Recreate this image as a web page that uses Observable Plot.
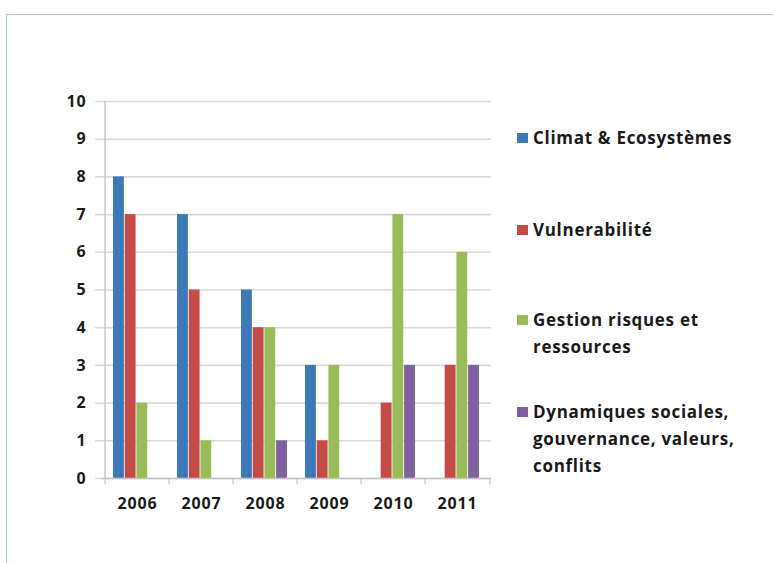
<!DOCTYPE html>
<html>
<head>
<meta charset="utf-8">
<script src="https://cdn.jsdelivr.net/npm/d3@7"></script>
<script src="https://cdn.jsdelivr.net/npm/@observablehq/plot@0.6"></script>
<style>
  html, body { margin: 0; padding: 0; background: #fff; }
  #wrap { position: relative; width: 773px; height: 563px; overflow: hidden; font-family: "Open Sans", sans-serif; }
  #border { position: absolute; left: 6px; top: 14px; right: -2px; bottom: -2px; border-top: 1.5px solid #a9cfd5; border-left: 1.5px solid #a9cfd5; }
  #chart { position: absolute; left: 0; top: 0; }
  #chart svg text { letter-spacing: 0.9px; }
  .leg { position: absolute; left: 517px; font-weight: bold; font-size: 17px; letter-spacing: 0.7px; line-height: 27px; color: #1a1a1a; }
  .leg .sw { position: absolute; left: 0; top: 9px; width: 11px; height: 10px; }
  .leg .tx { margin-left: 16px; white-space: nowrap; }
</style>
</head>
<body>
<div id="wrap">
  <div id="border"></div>
  <div id="chart"></div>
  <div id="legend"></div>
</div>
<script>
const years = ["2006", "2007", "2008", "2009", "2010", "2011"];
const series = ["Climat & Ecosystèmes", "Vulnerabilité", "Gestion risques et ressources", "Dynamiques sociales, gouvernance, valeurs, conflits"];
const legendLines = [["Climat & Ecosystèmes"], ["Vulnerabilité"], ["Gestion risques et", "ressources"], ["Dynamiques sociales,", "gouvernance, valeurs,", "conflits"]];
const climat = [8, 7, 5, 3, 0, 0];
const vulnerabilite = [7, 5, 4, 1, 2, 3];
const gestion = [2, 1, 4, 3, 7, 6];
const dynamiques = [0, 0, 1, 0, 3, 3];
const yTicks = [0, 1, 2, 3, 4, 5, 6, 7, 8, 9, 10];
const colors = ["#3c79b9", "#c44b46", "#9bbb59", "#7d61a0"];

const seriesValues = [climat, vulnerabilite, gestion, dynamiques];
const table = [];
series.forEach((s, i) => years.forEach((y, j) => table.push({year: y, series: s, value: seriesValues[i][j]})));

const W = 773, H = 563, mL = 102, mR = 282, mT = 101, mB = 85;
const bw = (W - mL - mR) / years.length;
const padL = 8, barW = 11.7;
const axisColor = "#c4c4c4";

const bars = series.map((s, i) => Plot.barY(table, {
  filter: d => d.series === s,
  x: "year", y: "value", fill: colors[i],
  insetLeft: padL + barW * i,
  insetRight: bw - padL - barW * (i + 1)
}));

const chart = Plot.plot({
  width: W, height: H,
  marginLeft: mL, marginRight: mR, marginTop: mT, marginBottom: mB,
  x: {domain: years, padding: 0, label: null},
  y: {domain: [0, 10], label: null},
  style: {fontFamily: "Open Sans, sans-serif", fontWeight: "bold", fontSize: "16px", color: "#1a1a1a", background: "transparent"},
  marks: [
    Plot.ruleY(yTicks, {stroke: "#dadada", strokeWidth: 1.6}),
    Plot.axisY(yTicks, {tickSize: 7, tickPadding: 9, stroke: "#dadada", strokeWidth: 1.6, fill: "#1a1a1a", label: null}),
    Plot.axisX({tickSize: 0, tickPadding: 19, fill: "#1a1a1a", label: null}),
    ...bars,
    Plot.ruleX([years[0]], {x: d => d, dx: -bw / 2, y1: 0, y2: 10, stroke: axisColor, strokeWidth: 1.4}),
    Plot.ruleY([0], {stroke: axisColor, strokeWidth: 1.6}),
    Plot.ruleX(years, {x: d => d, dx: -bw / 2, y1: 0, y2: -0.17, stroke: axisColor, strokeWidth: 1.2}),
    Plot.ruleX([years[years.length - 1]], {x: d => d, dx: bw / 2, y1: 0, y2: -0.17, stroke: axisColor, strokeWidth: 1.2})
  ]
});
document.getElementById("chart").appendChild(chart);

const legendTops = [124, 216, 306, 398];
const legend = document.getElementById("legend");
series.forEach((s, i) => {
  const item = document.createElement("div");
  item.className = "leg";
  item.style.top = legendTops[i] + "px";
  const sw = document.createElement("div");
  sw.className = "sw";
  sw.style.background = colors[i];
  item.appendChild(sw);
  legendLines[i].forEach(line => {
    const t = document.createElement("div");
    t.className = "tx";
    t.textContent = line;
    item.appendChild(t);
  });
  legend.appendChild(item);
});
</script>
</body>
</html>
